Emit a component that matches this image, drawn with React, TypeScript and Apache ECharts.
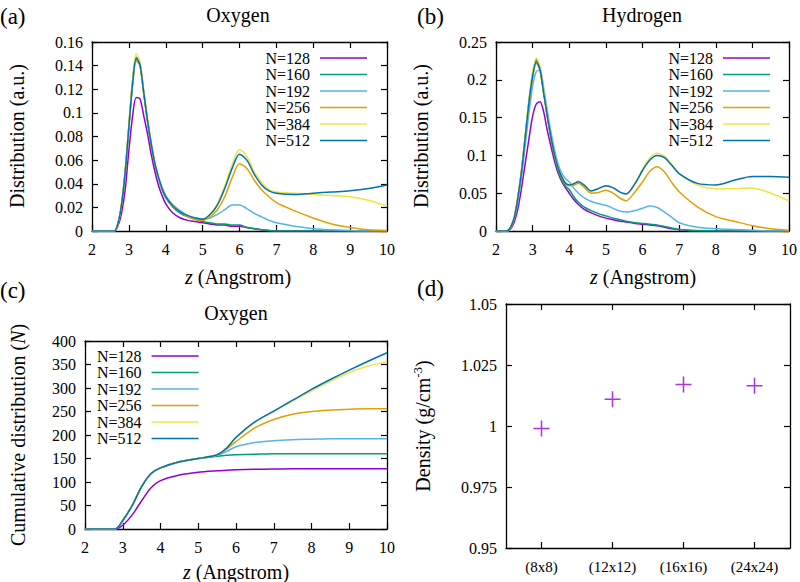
import { useEffect, useRef } from "react";
import * as echarts from "echarts";

const FONT = "'Liberation Serif', 'Times New Roman', serif";

const seriesNames = ["N=128", "N=160", "N=192", "N=256", "N=384", "N=512"];
const seriesColors = ["#9400d3", "#009e73", "#56b4e9", "#e69f00", "#f0e442", "#0072b2"];

// (a) oxygen distribution
const zOxygen = [2.0, 2.6, 2.7, 2.8, 2.9, 3.0, 3.1, 3.2, 3.3, 3.4, 3.5, 3.6, 3.7, 3.8, 3.9, 4.0, 4.2, 4.4, 4.6, 4.8, 5.0, 5.2, 5.4, 5.6, 5.8, 6.0, 6.2, 6.4, 6.6, 6.8, 7.0, 7.5, 8.0, 8.5, 9.0, 9.5, 10.0];
const oxygen128 = [0, 0, 0.004, 0.015, 0.035, 0.068, 0.097, 0.113, 0.112, 0.098, 0.083, 0.066, 0.051, 0.039, 0.03, 0.023, 0.015, 0.011, 0.009, 0.008, 0.007, 0.006, 0.005, 0.005, 0.004, 0.004, 0.003, 0.002, 0.001, 0.0005, 0, 0, 0, 0, 0, 0, 0];
const oxygen160 = [0, 0, 0.006, 0.022, 0.05, 0.089, 0.126, 0.147, 0.141, 0.118, 0.094, 0.074, 0.057, 0.045, 0.035, 0.028, 0.02, 0.015, 0.012, 0.01, 0.008, 0.007, 0.006, 0.006, 0.005, 0.005, 0.003, 0.002, 0.001, 0.0005, 0, 0, 0, 0, 0, 0, 0];
const oxygen192 = [0, 0, 0.006, 0.022, 0.049, 0.087, 0.123, 0.144, 0.14, 0.118, 0.095, 0.075, 0.058, 0.046, 0.037, 0.03, 0.022, 0.017, 0.013, 0.011, 0.01, 0.011, 0.014, 0.018, 0.022, 0.022, 0.019, 0.015, 0.012, 0.009, 0.007, 0.004, 0.002, 0.001, 0.0005, 0, 0];
const oxygen256 = [0, 0, 0.006, 0.022, 0.05, 0.088, 0.124, 0.145, 0.14, 0.117, 0.094, 0.074, 0.057, 0.045, 0.036, 0.029, 0.021, 0.016, 0.012, 0.01, 0.009, 0.012, 0.018, 0.029, 0.045, 0.057, 0.053, 0.043, 0.035, 0.029, 0.024, 0.017, 0.011, 0.006, 0.003, 0.001, 0.0005];
const oxygen384 = [0, 0, 0.006, 0.023, 0.052, 0.091, 0.128, 0.15, 0.144, 0.12, 0.096, 0.076, 0.059, 0.046, 0.036, 0.029, 0.021, 0.016, 0.013, 0.011, 0.01, 0.014, 0.023, 0.038, 0.056, 0.069, 0.063, 0.05, 0.041, 0.035, 0.033, 0.032, 0.031, 0.03, 0.029, 0.026, 0.021];
const oxygen512 = [0, 0, 0.006, 0.022, 0.05, 0.088, 0.125, 0.146, 0.141, 0.118, 0.095, 0.075, 0.058, 0.046, 0.036, 0.029, 0.021, 0.016, 0.013, 0.011, 0.01, 0.014, 0.022, 0.036, 0.053, 0.065, 0.06, 0.048, 0.039, 0.034, 0.032, 0.031, 0.032, 0.033, 0.034, 0.036, 0.039];

// (b) hydrogen distribution
const zHydrogen = [2.0, 2.3, 2.4, 2.5, 2.6, 2.7, 2.8, 2.9, 3.0, 3.1, 3.2, 3.3, 3.4, 3.5, 3.6, 3.7, 3.8, 3.9, 4.0, 4.1, 4.25, 4.4, 4.6, 4.8, 5.0, 5.2, 5.4, 5.55, 5.8, 6.0, 6.2, 6.4, 6.6, 6.8, 7.0, 7.5, 8.0, 8.5, 9.0, 9.5, 10.0];
const hydrogen128 = [0, 0, 0.003, 0.012, 0.03, 0.058, 0.09, 0.122, 0.152, 0.168, 0.171, 0.158, 0.133, 0.112, 0.092, 0.076, 0.065, 0.057, 0.05, 0.043, 0.035, 0.029, 0.024, 0.02, 0.017, 0.015, 0.013, 0.012, 0.01, 0.009, 0.008, 0.007, 0.005, 0.003, 0.002, 0, 0, 0, 0, 0, 0];
const hydrogen160 = [0, 0, 0.005, 0.018, 0.045, 0.081, 0.126, 0.172, 0.208, 0.227, 0.216, 0.184, 0.152, 0.123, 0.098, 0.079, 0.067, 0.059, 0.055, 0.047, 0.038, 0.032, 0.027, 0.023, 0.02, 0.017, 0.015, 0.013, 0.011, 0.01, 0.009, 0.008, 0.006, 0.004, 0.002, 0.0005, 0, 0, 0, 0, 0];
const hydrogen192 = [0, 0, 0.004, 0.016, 0.04, 0.073, 0.114, 0.156, 0.192, 0.211, 0.213, 0.19, 0.16, 0.131, 0.107, 0.088, 0.076, 0.069, 0.065, 0.058, 0.05, 0.044, 0.039, 0.036, 0.034, 0.03, 0.026, 0.025, 0.027, 0.03, 0.033, 0.031, 0.025, 0.018, 0.011, 0.005, 0.003, 0.002, 0.001, 0, 0];
const hydrogen256 = [0, 0, 0.005, 0.018, 0.045, 0.08, 0.124, 0.169, 0.203, 0.222, 0.212, 0.182, 0.152, 0.124, 0.1, 0.082, 0.07, 0.062, 0.06, 0.06, 0.063, 0.058, 0.05, 0.051, 0.054, 0.05, 0.043, 0.04, 0.052, 0.065, 0.079, 0.085, 0.078, 0.064, 0.052, 0.032, 0.019, 0.013, 0.007, 0.003, 0.001];
const hydrogen384 = [0, 0, 0.005, 0.019, 0.047, 0.083, 0.128, 0.174, 0.21, 0.229, 0.218, 0.186, 0.155, 0.126, 0.102, 0.084, 0.072, 0.064, 0.061, 0.062, 0.066, 0.061, 0.053, 0.057, 0.06, 0.057, 0.051, 0.049, 0.064, 0.082, 0.097, 0.103, 0.099, 0.088, 0.076, 0.061, 0.056, 0.056, 0.057, 0.05, 0.04];
const hydrogen512 = [0, 0, 0.005, 0.018, 0.045, 0.08, 0.125, 0.17, 0.205, 0.224, 0.214, 0.183, 0.153, 0.125, 0.101, 0.083, 0.071, 0.063, 0.061, 0.062, 0.065, 0.061, 0.053, 0.056, 0.06, 0.057, 0.051, 0.049, 0.063, 0.08, 0.094, 0.1, 0.097, 0.087, 0.076, 0.063, 0.061, 0.067, 0.072, 0.072, 0.071];

// (c) oxygen cumulative distribution
const zCumulative = [2.0, 2.8, 3.0, 3.25, 3.5, 3.75, 4.0, 4.5, 5.0, 5.5, 5.75, 6.0, 6.5, 7.0, 7.5, 8.0, 8.5, 9.0, 9.5, 10.0];
const cumulative128 = [0, 0, 8, 30, 60, 88, 103, 115, 121, 124, 125, 126, 127, 127.5, 128, 128, 128, 128, 128, 128];
const cumulative160 = [0, 0, 18, 50, 90, 118, 130, 143, 150, 155, 157, 158, 159, 160, 160, 160, 160, 160, 160, 160];
const cumulative192 = [0, 0, 18, 50, 90, 118, 130, 143, 150, 157, 165, 175, 184, 188, 190, 191, 192, 192, 192, 192];
const cumulative256 = [0, 0, 18, 50, 90, 118, 130, 143, 150, 158, 170, 186, 215, 233, 244, 250, 253, 255, 256, 256];
const cumulative384 = [0, 0, 18, 50, 90, 118, 130, 143, 150, 158, 172, 195, 227, 250, 272, 294, 314, 333, 347, 356];
const cumulative512 = [0, 0, 18, 50, 90, 118, 130, 143, 150, 158, 172, 195, 228, 251, 274, 297, 318, 338, 357, 375];

// (d) density
const cellSizes = ["(8x8)", "(12x12)", "(16x16)", "(24x24)"];
const densityValues = [0.999, 1.011, 1.017, 1.0165];

const oxygenSets = [oxygen128, oxygen160, oxygen192, oxygen256, oxygen384, oxygen512];
const hydrogenSets = [hydrogen128, hydrogen160, hydrogen192, hydrogen256, hydrogen384, hydrogen512];
const cumulativeSets = [cumulative128, cumulative160, cumulative192, cumulative256, cumulative384, cumulative512];

const lineSeries = (zs: number[], sets: number[][], axis: number) =>
  sets.map((vals, i) => ({
    type: "line",
    name: seriesNames[i],
    xAxisIndex: axis,
    yAxisIndex: axis,
    data: zs.map((z, k) => [z, vals[k]]),
    symbol: "none",
    showSymbol: false,
    smooth: 0.3,
    lineStyle: { color: seriesColors[i], width: 1.5 },
    itemStyle: { color: seriesColors[i] },
  }));

const axisLine = { show: true, onZero: false, lineStyle: { color: "#000", width: 1.3 } };
const axisTick = { show: true, inside: true, length: 6, lineStyle: { color: "#000", width: 1.2 } };

const zAxis = (grid: number, position: string, labels: boolean) => ({
  type: "value",
  gridIndex: grid,
  position,
  min: 2,
  max: 10,
  interval: 1,
  axisLine,
  axisTick,
  axisLabel: { show: labels, color: "#000", fontFamily: FONT, fontSize: 16, margin: 10 },
  splitLine: { show: false },
});

const valueAxis = (grid: number, position: string, labels: boolean, min: number, max: number, interval: number) => ({
  type: "value",
  gridIndex: grid,
  position,
  min,
  max,
  interval,
  axisLine,
  axisTick,
  axisLabel: { show: labels, color: "#000", fontFamily: FONT, fontSize: 16, margin: 9 },
  splitLine: { show: false },
});

const sizeAxis = (position: string, labels: boolean) => ({
  type: "category",
  gridIndex: 3,
  position,
  data: cellSizes,
  axisLine,
  axisTick: { ...axisTick, alignWithLabel: true },
  axisLabel: { show: labels, color: "#000", fontFamily: FONT, fontSize: 15, margin: 11 },
  splitLine: { show: false },
});

const text = (x: number, y: number, content: string, size: number, extra: any = {}) => ({
  type: "text",
  x,
  y,
  ...extra,
  style: {
    text: content,
    fontFamily: FONT,
    fontSize: size,
    fill: "#000",
    align: "center",
    verticalAlign: "middle",
    ...(extra.style || {}),
  },
});

const italic = { fontFamily: FONT, fontSize: 20, fontStyle: "italic", fill: "#000" };
const upright = { fontFamily: FONT, fontSize: 20, fill: "#000" };
const rotated = { rotation: Math.PI / 2 };

const legendBase = {
  data: seriesNames,
  orient: "vertical",
  align: "right",
  icon: "rect",
  itemWidth: 47,
  itemHeight: 1.6,
  itemGap: 0.5,
  padding: 0,
  selectedMode: false,
  textStyle: { fontFamily: FONT, fontSize: 16, color: "#000", lineHeight: 16, padding: [0, 5, 0, 0] },
};

const App = () => {
  const chartRef = useRef<HTMLDivElement>(null);

  useEffect(() => {
    const chart = echarts.init(chartRef.current, null, { renderer: "svg" });

    const options = {
      animation: false,
      backgroundColor: "#fff",
      textStyle: { fontFamily: FONT },
      grid: [
        { left: 92, top: 42, width: 295, height: 189 },
        { left: 496, top: 42, width: 294, height: 189 },
        { left: 85, top: 341, width: 302, height: 188 },
        { left: 506, top: 304, width: 284, height: 244 },
      ],
      xAxis: [
        zAxis(0, "bottom", true),
        zAxis(1, "bottom", true),
        zAxis(2, "bottom", true),
        sizeAxis("bottom", true),
        zAxis(0, "top", false),
        zAxis(1, "top", false),
        zAxis(2, "top", false),
        sizeAxis("top", false),
      ],
      yAxis: [
        valueAxis(0, "left", true, 0, 0.16, 0.02),
        valueAxis(1, "left", true, 0, 0.25, 0.05),
        valueAxis(2, "left", true, 0, 400, 50),
        valueAxis(3, "left", true, 0.95, 1.05, 0.025),
        valueAxis(0, "right", false, 0, 0.16, 0.02),
        valueAxis(1, "right", false, 0, 0.25, 0.05),
        valueAxis(2, "right", false, 0, 400, 50),
        valueAxis(3, "right", false, 0.95, 1.05, 0.025),
      ],
      legend: [
        { ...legendBase, right: 433, top: 50 },
        { ...legendBase, right: 30, top: 50 },
        { ...legendBase, left: 97, top: 348 },
      ],
      series: [
        ...lineSeries(zOxygen, oxygenSets, 0),
        ...lineSeries(zHydrogen, hydrogenSets, 1),
        ...lineSeries(zCumulative, cumulativeSets, 2),
        {
          type: "scatter",
          name: "Density",
          xAxisIndex: 3,
          yAxisIndex: 3,
          data: densityValues,
          symbol: "path://M0,8L16,8M8,0L8,16",
          symbolSize: 16,
          itemStyle: { color: "transparent", borderColor: "#9400d3", borderWidth: 1.5 },
        },
      ],
      graphic: [
        text(0, 16, "(a)", 23, { style: { align: "left" } }),
        text(238, 15, "Oxygen", 20),
        text(417, 16, "(b)", 23, { style: { align: "left" } }),
        text(642, 15, "Hydrogen", 20),
        text(0, 290, "(c)", 23, { style: { align: "left" } }),
        text(236, 313, "Oxygen", 20),
        text(417, 288, "(d)", 23, { style: { align: "left" } }),
        text(17, 136, "Distribution (a.u.)", 20, rotated),
        text(421, 136, "Distribution (a.u.)", 20, rotated),
        text(18, 435, "{u|Cumulative distribution (}{i|N}{u|)}", 20, {
          ...rotated,
          style: { rich: { i: italic, u: upright } },
        }),
        text(423, 426, "{u|Density (g/cm}{s|-3}{u|)}", 20, {
          ...rotated,
          style: { rich: { u: upright, s: { fontFamily: FONT, fontSize: 13, fill: "#000", padding: [0, 0, 12, 0] } } },
        }),
        text(238, 277, "{i|z}{u| (Angstrom)}", 20, { style: { rich: { i: italic, u: upright } } }),
        text(643, 277, "{i|z}{u| (Angstrom)}", 20, { style: { rich: { i: italic, u: upright } } }),
        text(236, 572, "{i|z}{u| (Angstrom)}", 20, { style: { rich: { i: italic, u: upright } } }),
      ],
    };

    chart.setOption(options);

    return () => {
      chart.dispose();
    };
  }, []);

  return (
    <div
      ref={chartRef}
      style={{ position: "absolute", left: 0, top: 0, width: 800, height: 582 }}
    />
  );
};

export default App;
